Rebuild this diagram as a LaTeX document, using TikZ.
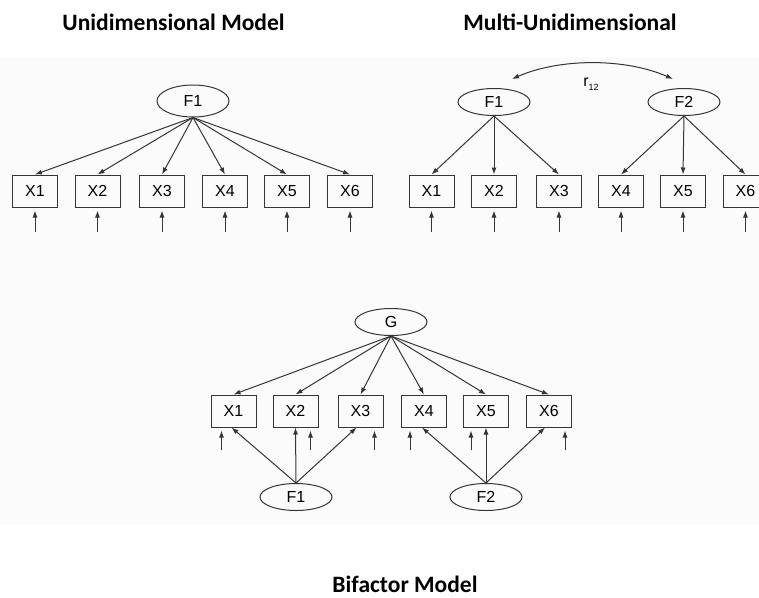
\documentclass[tikz,border=0pt]{standalone}
\usepackage{fontspec}
\setmainfont{Liberation Sans}
\newfontfamily\titlefont{Carlito}
\usetikzlibrary{arrows.meta,calc,shapes.geometric}
\definecolor{ln}{HTML}{353535}
\definecolor{bg}{HTML}{FBFBFB}
\tikzset{
  lat/.style={ellipse,draw=ln,line width=1pt,minimum width=72pt,minimum height=30pt,inner sep=0pt,font=\fontsize{16}{18}\selectfont},
  obs/.style={rectangle,draw=ln,line width=1pt,minimum width=45pt,minimum height=32pt,inner sep=0pt,font=\fontsize{16}{18}\selectfont},
  ld/.style={draw=ln,line width=1pt,-{Latex[length=7pt,width=5pt]}},
  err/.style={draw=ln,line width=1pt,-{Latex[length=7pt,width=5pt]}},
  ttl/.style={font=\titlefont\bfseries\fontsize{23.5}{28}\selectfont,inner sep=0pt}
}
\begin{document}
\begin{tikzpicture}[x=1pt,y=-1pt]
\useasboundingbox (0,0) rectangle (759,597);
\fill[bg] (0,57) rectangle (759,525);
% titles
\node[ttl,anchor=base] (t1) at (173.5,30) {Unidimensional Model};
\node[ttl,anchor=base] (t2) at (570,30) {Multi-Unidimensional};
\node[ttl,anchor=base] (t3) at (405,592) {Bifactor Model};
% ---------- panel 1
\node[lat,minimum height=32pt] (uf) at (193,101) {F1};
\foreach \i/\x in {1/35,2/97.5,3/162,4/225,5/287,6/350}{
  \node[obs] (u\i) at (\x,191) {X\i};
  \draw[ld] (uf.south) -- (u\i.north);
  \draw[err] ($(u\i.south)+(0,24)$) -- ($(u\i.south)+(0,3)$);
}
% ---------- panel 2
\node[lat,minimum height=27pt] (mf1) at (494,102) {F1};
\node[lat,minimum height=27pt] (mf2) at (684,102) {F2};
\foreach \i/\x in {1/431.5,2/494,3/559,4/621,5/683,6/745.5}{
  \node[obs] (m\i) at (\x,191) {X\i};
  \draw[err] ($(m\i.south)+(0,24)$) -- ($(m\i.south)+(0,3)$);
}
\foreach \i in {1,2,3}{\draw[ld] (mf1.south) -- (m\i.north);}
\foreach \i in {4,5,6}{\draw[ld] (mf2.south) -- (m\i.north);}
\coordinate (ca) at ($(mf1.north)+(18,-9)$);
\coordinate (cb) at ($(mf2.north)+(-11,-9)$);
\draw[draw=ln,line width=1pt,{Latex[length=7pt,width=5pt]}-{Latex[length=7pt,width=5pt]}] (ca) .. controls (560,58) and (625,58) .. (cb);
\node[font=\fontsize{16}{18}\selectfont,inner sep=0pt] (r12) at (591,84) {r\raisebox{-4pt}{\fontsize{9}{10}\selectfont 12}};
% ---------- panel 3
\node[lat,minimum height=27pt] (g) at (391,322) {G};
\foreach \i/\x in {1/233.5,2/295.5,3/360.5,4/424,5/486,6/549}{
  \node[obs] (b\i) at (\x,411) {X\i};
  \draw[ld] (g.south) -- (b\i.north);
}
\node[lat,minimum height=27pt] (bf1) at (296,497) {F1};
\node[lat,minimum height=27pt] (bf2) at (486,497) {F2};
\draw[ld] (bf1.north) -- ($(b1.south)+(-2,0)$);
\draw[ld] (bf1.north) -- (b2.south);
\draw[ld] (bf1.north) -- ($(b3.south)+(-4,0)$);
\draw[ld] (bf2.north) -- ($(b4.south)+(-2,0)$);
\draw[ld] (bf2.north) -- (b5.south);
\draw[ld] (bf2.north) -- ($(b6.south)+(-4,0)$);
\foreach \i/\d in {1/-12,2/15,3/14,4/-14,5/-15,6/16}{
  \draw[err] ($(b\i.south)+(\d,22)$) -- ($(b\i.south)+(\d,3)$);
}
\end{tikzpicture}
\end{document}
